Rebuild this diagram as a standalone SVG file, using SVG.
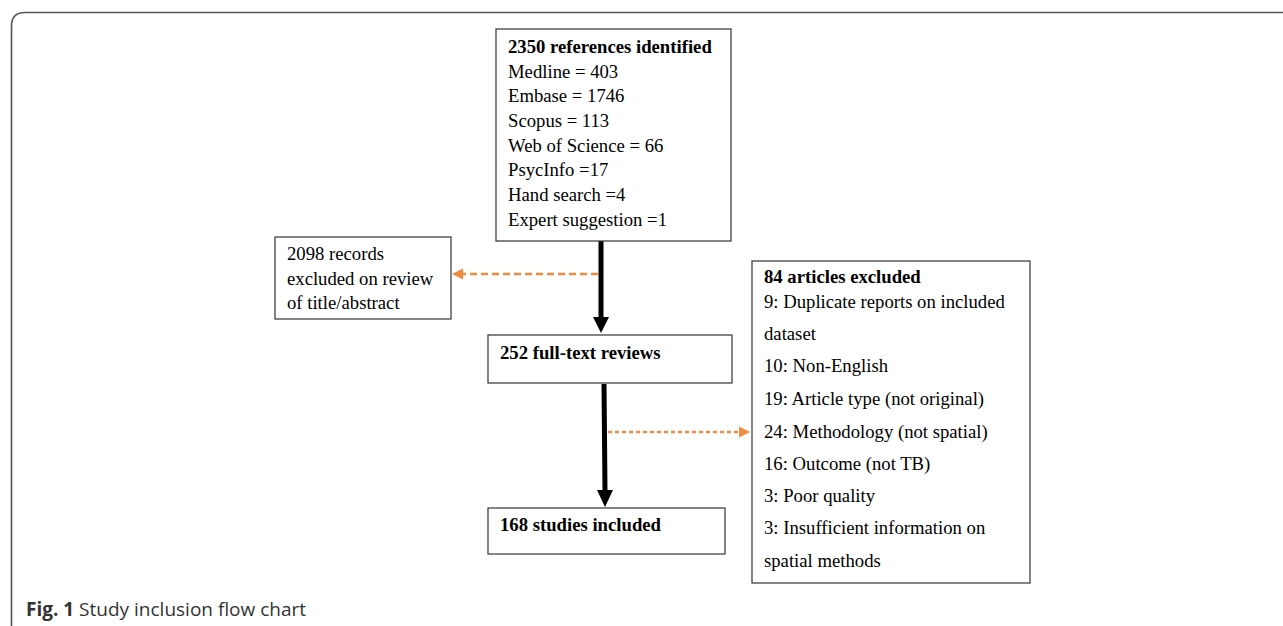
<svg xmlns="http://www.w3.org/2000/svg" width="1283" height="626" viewBox="0 0 1283 626">
<defs>
<style>
.box{fill:#fff;stroke:#333;stroke-width:1.2}
.t{font-family:"Liberation Serif",serif;font-size:18.7px;fill:#000}
.b{font-weight:bold}
.main{stroke:#000;stroke-width:5;fill:none}
.or{stroke:#f08a3c;stroke-width:2.5;fill:none}
</style>
</defs>
<rect width="1283" height="626" fill="#fff"/>
<path d="M11.5,640 V26 Q11.5,12.5 25,12.5 H1300" fill="none" stroke="#555" stroke-width="1.6"/>
<g id="connectors">
<line class="main" x1="601" y1="241" x2="601" y2="318"/>
<polygon points="593,317 609,317 601,333" fill="#000"/>
<line class="main" x1="604" y1="384" x2="605" y2="491"/>
<polygon points="597,490 613,490 605,507" fill="#000"/>
<line class="or" x1="598" y1="274" x2="463" y2="274" stroke-dasharray="7,4"/>
<polygon points="452,274 463,268.5 463,279.5" fill="#f08a3c"/>
<line class="or" x1="608" y1="432" x2="738" y2="432" stroke-dasharray="4,3" stroke-width="3"/>
<polygon points="750,432 739,426.5 739,437.5" fill="#f08a3c"/>
</g>
<g id="n1">
<rect class="box" x="496" y="29" width="235" height="212"/>
<text class="t b" x="508" y="53">2350 references identified</text>
<text class="t" x="508" y="78">Medline = 403</text>
<text class="t" x="508" y="102">Embase = 1746</text>
<text class="t" x="508" y="127">Scopus = 113</text>
<text class="t" x="508" y="152">Web of Science = 66</text>
<text class="t" x="508" y="176">PsycInfo =17</text>
<text class="t" x="508" y="201">Hand search =4</text>
<text class="t" x="508" y="226">Expert suggestion =1</text>
</g>
<g id="n2">
<rect class="box" x="275" y="237" width="176" height="82"/>
<text class="t" x="287" y="260">2098 records</text>
<text class="t" x="287" y="285">excluded on review</text>
<text class="t" x="287" y="309">of title/abstract</text>
</g>
<g id="n3">
<rect class="box" x="488" y="335" width="244" height="48"/>
<text class="t b" x="500" y="359">252 full-text reviews</text>
</g>
<g id="n4">
<rect class="box" x="488" y="508" width="237" height="46"/>
<text class="t b" x="500" y="531">168 studies included</text>
</g>
<g id="n5">
<rect class="box" x="752" y="261" width="278" height="322"/>
<text class="t b" x="764" y="283">84 articles excluded</text>
<text class="t" x="764" y="308">9: Duplicate reports on included</text>
<text class="t" x="764" y="340">dataset</text>
<text class="t" x="764" y="372">10: Non-English</text>
<text class="t" x="764" y="405">19: Article type (not original)</text>
<text class="t" x="764" y="438">24: Methodology (not spatial)</text>
<text class="t" x="764" y="470">16: Outcome (not TB)</text>
<text class="t" x="764" y="502">3: Poor quality</text>
<text class="t" x="764" y="534">3: Insufficient information on</text>
<text class="t" x="764" y="567">spatial methods</text>
</g>
<text x="26" y="616" style="font-family:'Open Sans',sans-serif;font-size:19px;fill:#333"><tspan font-weight="bold">Fig. 1</tspan> Study inclusion flow chart</text>
</svg>
